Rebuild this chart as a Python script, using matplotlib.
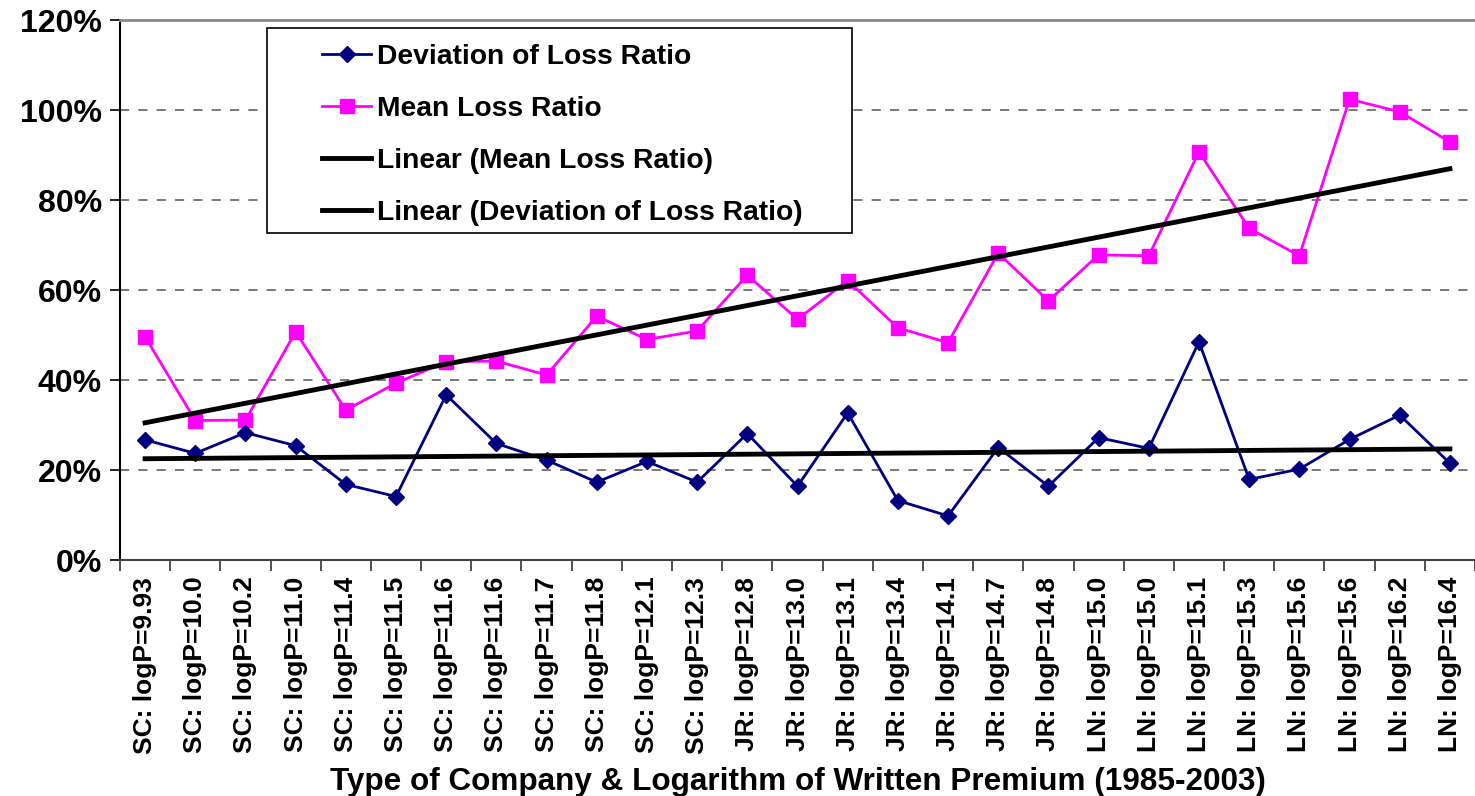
import numpy as np
import matplotlib
matplotlib.use('Agg')
import matplotlib.pyplot as plt
from matplotlib.patches import Rectangle
from matplotlib.ticker import PercentFormatter

plt.rcParams['font.family'] = ['Liberation Sans', 'DejaVu Sans']
plt.rcParams['font.weight'] = 'bold'
plt.rcParams['axes.labelweight'] = 'bold'

# company type and log of written premium for each group
company_type = ['SC'] * 12 + ['JR'] * 7 + ['LN'] * 8
log_premium = ['9.93', '10.0', '10.2', '11.0', '11.4', '11.5', '11.6', '11.6', '11.7',
               '11.8', '12.1', '12.3', '12.8', '13.0', '13.1', '13.4', '14.1', '14.7',
               '14.8', '15.0', '15.0', '15.1', '15.3', '15.6', '15.6', '16.2', '16.4']

# loss ratios in percent
mean_loss = [49.6, 31.0, 31.1, 50.7, 33.3, 39.3, 44.1, 44.2, 41.1, 54.2, 49.0, 50.9, 63.3, 53.5,
             62.1, 51.6, 48.3, 68.2, 57.6, 67.8, 67.6, 90.7, 73.7, 67.6, 102.4, 99.6, 92.9]
dev_loss = [26.7, 23.7, 28.3, 25.4, 16.8, 14.1, 36.7, 25.9, 22.2, 17.3, 21.9, 17.3, 28.1, 16.4,
            32.7, 13.2, 9.8, 25.0, 16.4, 27.2, 24.8, 48.5, 17.9, 20.2, 26.8, 32.2, 21.5]

labels = [f'{t}: logP={p}' for t, p in zip(company_type, log_premium)]
x = np.arange(1, len(labels) + 1)
mean_loss = np.array(mean_loss) / 100
dev_loss = np.array(dev_loss) / 100

# least squares trend for each series
mean_fit = np.polyval(np.polyfit(x, mean_loss, 1), x)
dev_fit = np.polyval(np.polyfit(x, dev_loss, 1), x)

fig = plt.figure(figsize=(14.75, 7.96), dpi=100)
ax = fig.add_axes([120 / 1475, 1 - 560 / 796, 1355 / 1475, 540 / 796])

l1, = ax.plot(x, dev_loss, color='#000080', lw=2, marker='D', ms=8, zorder=4)
l2, = ax.plot(x, mean_loss, color='#FF00FF', lw=2, marker='s', ms=10, zorder=3)
l3, = ax.plot(x, mean_fit, color='black', lw=3.5, zorder=5)
l4, = ax.plot(x, dev_fit, color='black', lw=3.5, zorder=5)

ax.set_xlim(0.5, len(labels) + 0.5)
ax.set_ylim(0, 1.2)
ax.set_yticks(np.arange(0, 1.21, 0.2))
ax.yaxis.set_major_formatter(PercentFormatter(1.0, decimals=0))
ax.tick_params(axis='y', labelsize=23, length=7, width=1.2, pad=6)

# category labels centred, ticks between categories
ax.set_xticks(x)
ax.set_xticklabels(labels, rotation=90, fontsize=19)
ax.set_xticks(np.arange(0.5, len(labels) + 1), minor=True)
ax.tick_params(axis='x', which='major', length=0, pad=12)
ax.tick_params(axis='x', which='minor', length=8, width=1.2, color='#333333')

for yv in np.arange(0.2, 1.01, 0.2):
    ax.axhline(yv, color='#555555', lw=1.1, ls=(0, (6, 6)), zorder=1)

ax.spines['right'].set_visible(False)
ax.spines['top'].set_color('#888888')
ax.spines['top'].set_linewidth(2)
ax.spines['left'].set_linewidth(1.5)
ax.spines['bottom'].set_color('#444444')
ax.spines['bottom'].set_linewidth(1.5)

ax.set_xlabel('Type of Company & Logarithm of Written Premium (1985-2003)',
              fontsize=22.7, fontweight='bold', labelpad=10)

# legend box
fig.patches.append(Rectangle((267 / 1475, 1 - 233 / 796), 585 / 1475, 205 / 796,
                             transform=fig.transFigure, facecolor='white',
                             edgecolor='black', lw=1.2, zorder=10))
leg = fig.legend([l1, l2, l3, l4],
                 ['Deviation of Loss Ratio', 'Mean Loss Ratio',
                  'Linear (Mean Loss Ratio)', 'Linear (Deviation of Loss Ratio)'],
                 loc='upper left', bbox_to_anchor=(322 / 1475, 1 - 44 / 796),
                 frameon=False, fontsize=20.3, handlelength=1.75, handletextpad=0.2,
                 labelspacing=0.92, borderpad=0, borderaxespad=0)
leg.set_zorder(11)

fig.savefig('out.png', dpi=100, facecolor='white')
